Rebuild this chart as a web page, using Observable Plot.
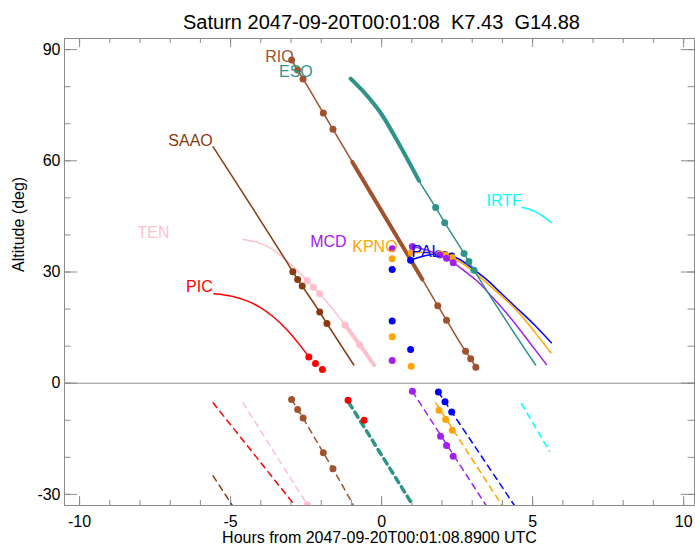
<!DOCTYPE html>
<html><head><meta charset="utf-8">
<script src="https://cdn.jsdelivr.net/npm/d3@7"></script>
<script src="https://cdn.jsdelivr.net/npm/@observablehq/plot@0.6"></script>
<style>html,body{margin:0;padding:0;background:#fff} svg text{white-space:pre}</style>
</head><body><div id="chart"></div>
<script>
// ---- data (hours from reference time, altitude in degrees) ----
const titleText = "Saturn 2047-09-20T00:01:08  K7.43  G14.88";
const xLabel = "Hours from 2047-09-20T00:01:08.8900 UTC";
const yLabel = "Altitude (deg)";
const xMajor = [-10, -5, 0, 5, 10];
const xMinor = [-10,-9,-8,-7,-6,-5,-4,-3,-2,-1,0,1,2,3,4,5,6,7,8,9,10];
const yMajor = [-30, 0, 30, 60, 90];
const yMinor = [-30,-20,-10,0,10,20,30,40,50,60,70,80,90];

const names = ["TEN","PIC","SAAO","RIO","PAL","KPNO","MCD","ESO","IRTF"];

const tenTrack = [[-4.58,38.8],[-4.2,38.2],[-3.8,37.0],[-3.4,34.9],[-3.01,32.1],[-2.46,27.7],[-2.26,25.9],[-2.05,24.1],[-1.21,15.7],[-0.73,10.4],[-0.25,4.9]];
const tenThick = [-1.21, -0.25];
const tenDots = [[-2.46,27.7],[-2.26,25.9],[-2.05,24.1],[-1.21,15.7],[-0.73,10.4]];
const tenSun = [[-4.59,-5.3],[-2.46,-32.8]];
const tenSunDots = [[-2.46,-32.8]];

const picTrack = [[-5.55,24.1],[-5.2,23.8],[-4.89,23.3],[-4.4,22.0],[-4.01,20.4],[-3.6,18.0],[-3.12,14.3],[-2.68,10.0],[-2.41,7.1]];
const picDots = [[-2.41,7.1],[-2.19,5.3],[-1.96,3.7]];
const picSun = [[-5.58,-5.3],[-2.85,-33.2]];
const picSunDots = [[-1.11,-4.6],[-0.58,-10.0]];

const saaoTrack = [[-5.58,63.8],[-2.94,30.1],[-2.78,28.0],[-2.63,26.2],[-2.05,19.2],[-1.81,16.1],[-0.92,4.9]];
const saaoDots = [[-2.94,30.1],[-2.78,28.0],[-2.63,26.2],[-2.05,19.2],[-1.81,16.1]];
const saaoSun = [[-5.58,-25.0],[-4.9,-33.5]];

const rioTrack = [[-2.98,87.2],[-2.78,84.5],[-2.6,82.1],[-1.93,72.9],[-1.61,68.5],[-0.97,59.7],[1.35,28.0],[1.86,20.9],[2.15,17.0],[2.78,8.6],[2.95,6.6],[3.12,4.3]];
const rioThick = [-0.97, 1.35];
const rioDots = [[-2.98,87.2],[-2.78,84.5],[-2.6,82.1],[-1.93,72.9],[-1.61,68.5],[1.86,20.9],[2.15,17.0],[2.78,8.6],[2.95,6.6],[3.12,4.3]];
const rioSun = [[-2.98,-4.4],[-2.78,-7.1],[-2.6,-9.4],[-1.93,-18.8],[-1.61,-23.1],[-0.94,-32.8]];
const rioSunDots = [[-2.98,-4.4],[-2.78,-7.1],[-2.6,-9.4],[-1.93,-18.8],[-1.61,-23.1]];

const palTrack = [[0.96,33.2],[1.4,34.3],[1.88,34.9],[2.1,34.7],[2.32,34.3],[2.6,33.3],[3.0,31.0],[3.5,27.8],[3.94,24.4],[4.5,20.1],[5.04,15.9],[5.62,10.9]];
const palDots = [[0.35,30.7],[0.35,16.8],[0.96,33.2],[0.96,9.1],[1.88,34.9],[2.1,34.7],[2.32,34.3]];
const palSun = [[1.88,-2.4],[4.44,-33.5]];
const palSunDots = [[1.88,-2.4],[2.1,-5.0],[2.32,-7.8]];

const kpnoTrack = [[0.98,35.2],[1.5,35.3],[1.93,34.9],[2.12,34.6],[2.34,33.9],[2.8,31.6],[3.28,28.5],[3.9,24.0],[4.49,19.5],[5.1,13.5],[5.6,8.2]];
const kpnoDots = [[0.35,33.6],[0.35,12.5],[0.98,35.2],[0.98,4.6],[1.93,34.9],[2.12,34.6],[2.34,33.9]];
const kpnoSun = [[1.79,-5.3],[4.03,-33.5]];
const kpnoSunDots = [[1.9,-7.3],[2.12,-9.8],[2.34,-12.7]];

const mcdTrack = [[1.02,36.9],[1.5,35.9],[1.93,34.6],[2.15,33.7],[2.37,32.5],[2.8,29.9],[3.17,27.5],[3.7,22.9],[4.27,17.6],[4.9,11.0],[5.46,5.0]];
const mcdDots = [[0.35,36.3],[0.35,6.1],[1.02,36.9],[1.93,34.6],[2.15,33.7],[2.37,32.5]];
const mcdSun = [[1.02,-2.2],[3.5,-33.5]];
const mcdSunDots = [[1.02,-2.2],[1.95,-14.3],[2.15,-16.8],[2.37,-19.7]];

const esoTrack = [[-1.03,82.2],[-0.55,78.2],[-0.03,72.9],[0.6,64.2],[1.24,54.6],[1.79,47.4],[2.09,43.3],[2.73,35.0],[2.89,32.8],[3.06,30.5],[5.1,4.9]];
const esoThick = [-1.03, 1.24];
const esoDots = [[1.79,47.4],[2.09,43.3],[2.73,35.0],[2.89,32.8],[3.06,30.5]];
const esoSun = [[-1.08,-5.3],[1.0,-32.5]];

const irtfTrack = [[4.66,47.4],[5.04,46.5],[5.37,44.9],[5.62,43.3]];
const irtfSun = [[4.63,-5.5],[5.56,-18.4]];

// label anchor points (data units: hours, degrees)
const labelHours = [-7.02, -5.59, -5.59, -2.91, 1.95, 0.53, -1.16, -2.28, 4.64];
const labelAlts  = [40.5, 25.9, 65.5, 88.0, 35.3, 36.9, 38.0, 83.9, 49.1];

// ---- styles ----
const colors = {TEN:"#FFC0CB", PIC:"#FF0000", SAAO:"#8B3A10", RIO:"#A0522D", PAL:"#0000FF", KPNO:"#FFA500", MCD:"#A020F0", ESO:"#2E9488", IRTF:"#00FFFF"};
const gray = "#8c8c8c";
const W = 695, H = 545, mL = 64, mR = 1, mT = 38, mB = 40;
const fw = W - mL - mR, fh = H - mT - mB;

const obs = {
  TEN:{track:tenTrack, thick:tenThick, dots:tenDots, sun:tenSun, sunDots:tenSunDots},
  PIC:{track:picTrack, dots:picDots, sun:picSun, sunDots:picSunDots},
  SAAO:{track:saaoTrack, dots:saaoDots, sun:saaoSun},
  RIO:{track:rioTrack, thick:rioThick, dots:rioDots, sun:rioSun, sunDots:rioSunDots},
  PAL:{track:palTrack, dots:palDots, sun:palSun, sunDots:palSunDots},
  KPNO:{track:kpnoTrack, dots:kpnoDots, sun:kpnoSun, sunDots:kpnoSunDots},
  MCD:{track:mcdTrack, dots:mcdDots, sun:mcdSun, sunDots:mcdSunDots},
  ESO:{track:esoTrack, thick:esoThick, dots:esoDots, sun:esoSun, sunWidth:3.5},
  IRTF:{track:irtfTrack, sun:irtfSun}
};

const X = d => d[0], Y = d => d[1];
const marks = [];
// ticks on all four sides, inward
marks.push(Plot.tickX(xMinor, {x: d => d, stroke: gray, insetTop: fh - 5}));
marks.push(Plot.tickX(xMinor, {x: d => d, stroke: gray, insetBottom: fh - 5}));
marks.push(Plot.tickX(xMajor, {x: d => d, stroke: gray, insetTop: fh - 9}));
marks.push(Plot.tickX(xMajor, {x: d => d, stroke: gray, insetBottom: fh - 9}));
marks.push(Plot.tickY(yMinor, {y: d => d, stroke: gray, insetRight: fw - 6.5}));
marks.push(Plot.tickY(yMinor, {y: d => d, stroke: gray, insetLeft: fw - 6.5}));
marks.push(Plot.tickY(yMajor, {y: d => d, stroke: gray, insetRight: fw - 13}));
marks.push(Plot.tickY(yMajor, {y: d => d, stroke: gray, insetLeft: fw - 13}));
marks.push(Plot.ruleY([0], {stroke: gray, strokeWidth: 1}));

// sun (dashed) lines
for (const n of names) {
  const o = obs[n];
  if (o.sun) marks.push(Plot.line(o.sun, {x: X, y: Y, stroke: colors[n], strokeWidth: o.sunWidth || 1.5, strokeDasharray: "6,5", clip: true}));
}
for (const n of names) {
  const o = obs[n];
  if (o.sunDots) marks.push(Plot.dot(o.sunDots, {x: X, y: Y, r: 3.5, fill: colors[n], clip: true}));
}
// altitude tracks
for (const n of names) {
  const o = obs[n];
  marks.push(Plot.line(o.track, {x: X, y: Y, stroke: colors[n], strokeWidth: 1.5, curve: "monotone-x", clip: true}));
  if (o.thick) marks.push(Plot.line(o.track.filter(d => d[0] >= o.thick[0] && d[0] <= o.thick[1]), {x: X, y: Y, stroke: colors[n], strokeWidth: 4, curve: "monotone-x"}));
  if (o.dots) marks.push(Plot.dot(o.dots, {x: X, y: Y, r: 3.5, fill: colors[n]}));
}
// labels
marks.push(Plot.text(names, {x: (d, i) => labelHours[i], y: (d, i) => labelAlts[i], text: d => d, fill: d => colors[d], textAnchor: "end", lineAnchor: "middle", fontSize: 16}));
// axis tick labels
marks.push(Plot.axisX(xMajor, {tickSize: 0, tickPadding: 10, fontSize: 16, tickFormat: d => String(d), label: null}));
marks.push(Plot.axisY(yMajor, {tickSize: 0, tickPadding: 4, fontSize: 16, tickFormat: d => String(d), label: null}));
// titles
marks.push(Plot.text([xLabel], {frameAnchor: "bottom", dy: 32, lineAnchor: "middle", fontSize: 16, fill: "#000"}));
marks.push(Plot.text([yLabel], {frameAnchor: "left", dx: -46, rotate: -90, lineAnchor: "middle", fontSize: 16, fill: "#000"}));
marks.push(Plot.text([titleText], {frameAnchor: "top", dx: 2, dy: -16, lineAnchor: "middle", fontSize: 20, fill: "#000"}));
marks.push(Plot.frame({stroke: gray}));

const chart = Plot.plot({
  width: W, height: H,
  marginLeft: mL, marginRight: mR, marginTop: mT, marginBottom: mB,
  x: {domain: [-10.5, 10.36]},
  y: {domain: [-33, 93]},
  style: {fontFamily: "'Liberation Sans', Arial, Helvetica, sans-serif", fontSize: "16px", color: "#000", background: "#fff"},
  marks
});
document.getElementById("chart").appendChild(chart);
</script></body></html>
